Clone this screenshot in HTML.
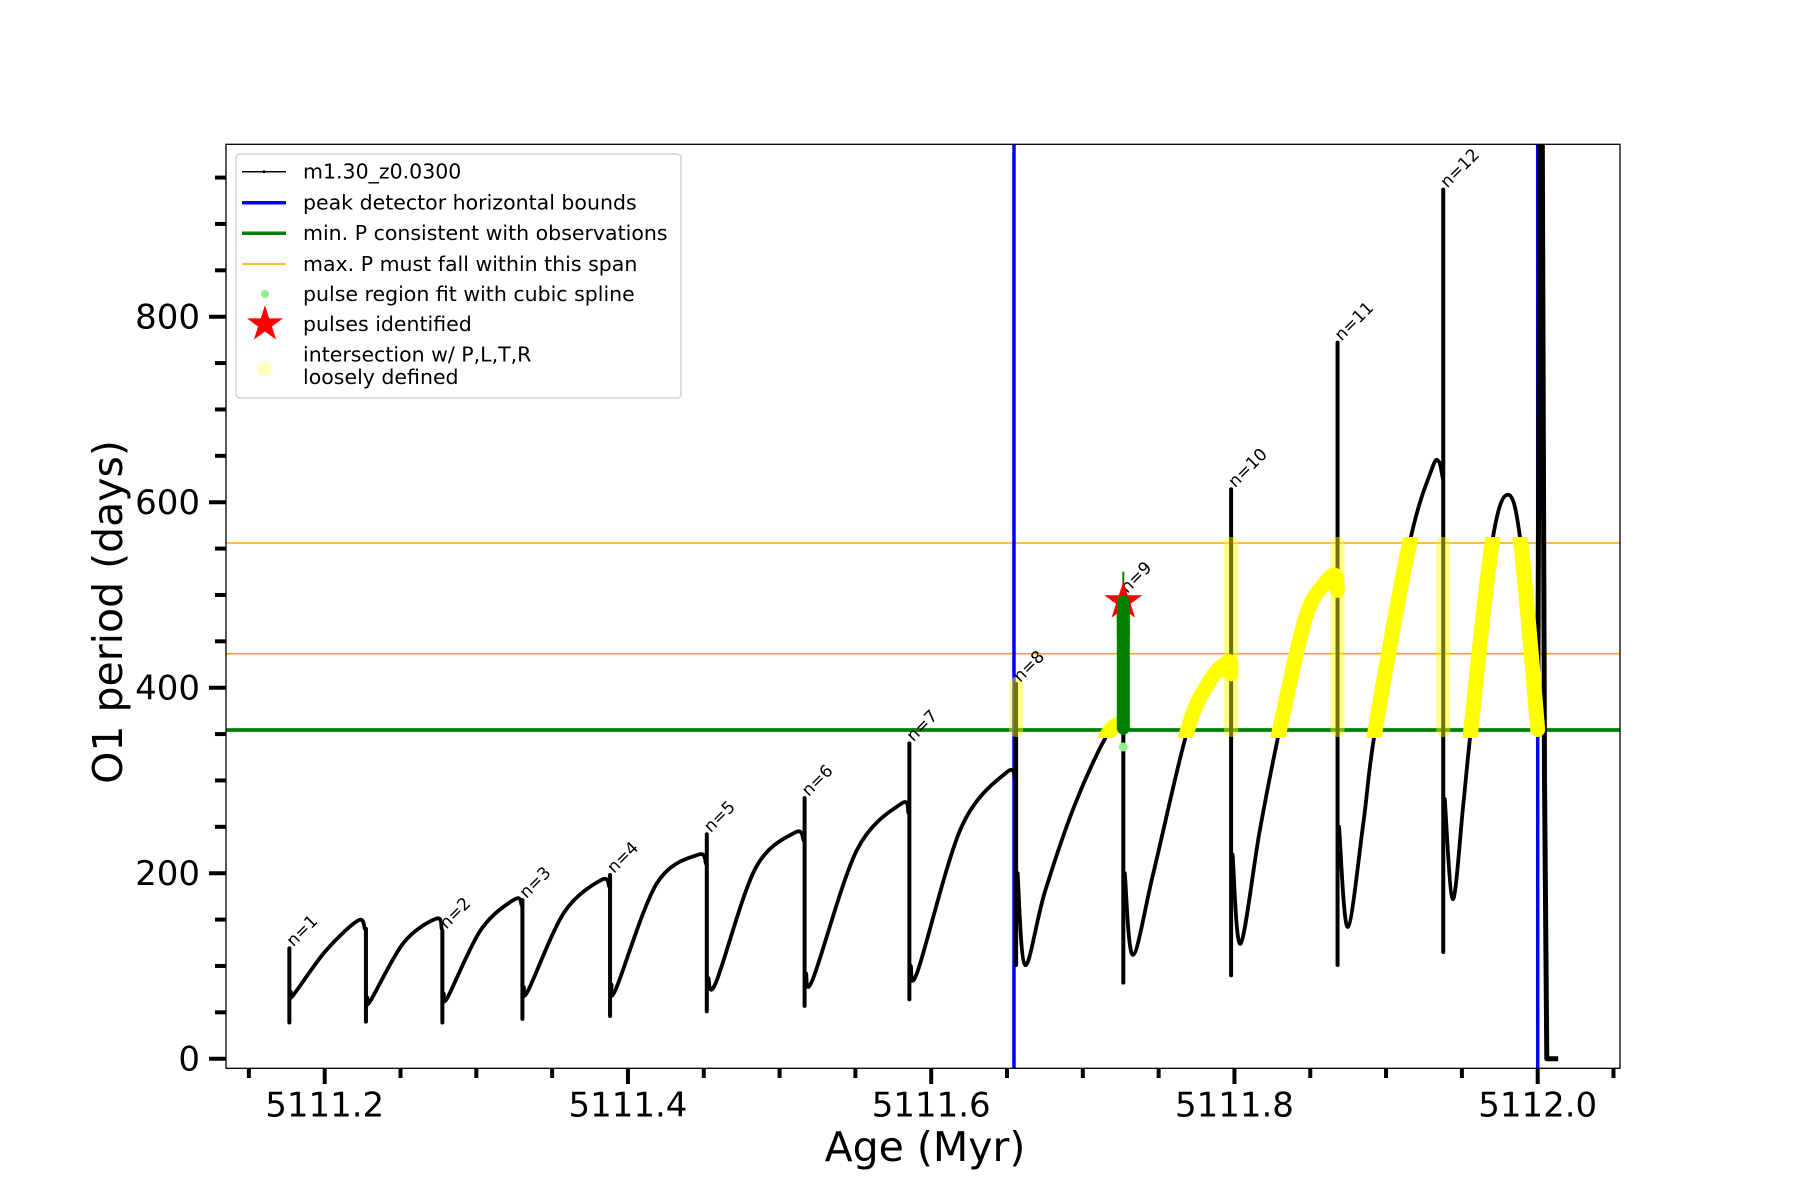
<!DOCTYPE html>
<html><head><meta charset="utf-8"><style>
html,body{margin:0;padding:0;background:#fff;}
svg{display:block;font-family:"DejaVu Sans","Liberation Sans",sans-serif;}
</style></head><body>
<svg id="chart" xmlns="http://www.w3.org/2000/svg" width="1800" height="1200" viewBox="0 0 1800 1200">
<defs>
<clipPath id="plotClip"><rect x="226" y="144.3" width="1394" height="924"/></clipPath>
<clipPath id="bandClip"><rect x="1008" y="537" width="620" height="201"/></clipPath>
</defs>
<rect x="0" y="0" width="1800" height="1200" fill="#fff"/>
<g id="marks" clip-path="url(#plotClip)"></g>
<rect x="226" y="144.3" width="1394" height="924" fill="none" stroke="#000" stroke-width="1.3"/>
<g id="axes"></g>
<text x="925" y="1161" font-size="41" text-anchor="middle">Age (Myr)</text>
<text transform="translate(122,612) rotate(-90)" font-size="41" text-anchor="middle">O1 period (days)</text>
<g>
<rect x="236" y="154" width="445" height="244" rx="4" fill="#fff" fill-opacity="0.85" stroke="#cccccc" stroke-width="1.3"/>
<g><line x1="242" y1="171.7" x2="286" y2="171.7" stroke="#000" stroke-width="1.5"/><circle cx="264" cy="171.7" r="1.5" fill="#000"/><text x="303" y="178.5" font-size="20.5">m1.30_z0.0300</text></g>
<g><line x1="242" y1="202.7" x2="286" y2="202.7" stroke="#0000ff" stroke-width="3.5"/><text x="303" y="209.5" font-size="20.5">peak detector horizontal bounds</text></g>
<g><line x1="242" y1="233.3" x2="286" y2="233.3" stroke="#008000" stroke-width="3.5"/><text x="303" y="240.1" font-size="20.5">min. P consistent with observations</text></g>
<g><line x1="242" y1="264" x2="286" y2="264" stroke="#ffa500" stroke-width="1.5"/><text x="303" y="270.8" font-size="20.5">max. P must fall within this span</text></g>
<g><circle cx="265" cy="294" r="4" fill="#90ee90"/><text x="303" y="300.8" font-size="20.5">pulse region fit with cubic spline</text></g>
<g><polygon id="legStar" fill="#ff0000"/><text x="303" y="331.1" font-size="20.5">pulses identified</text></g>
<g><circle cx="265" cy="369" r="7.5" fill="#ffff00" fill-opacity="0.25"/><text x="303" y="361.5" font-size="20.5">intersection w/ P,L,T,R</text><text x="303" y="384" font-size="20.5">loosely defined</text></g>
</g>
</svg>
<script>
// ---- data ----
const spikeAges = [5111.1767, 5111.2272, 5111.2776, 5111.3304, 5111.3882, 5111.452, 5111.5165, 5111.5856, 5111.656, 5111.7267, 5111.7978, 5111.868, 5111.9377];
const spikeTops = [119, 140, 138, 171, 198, 242, 281, 340, 404, 500, 614, 772, 937];
const spikeBottoms = [39, 40, 39, 43, 46, 51, 57, 64, 101, 82, 90, 101, 115];
const postP = [72, 66, 70, 77, 80, 87, 92, 100, 200, 200, 220, 250, 280];
const spikeLabels = ["n=1", "", "n=2", "n=3", "n=4", "n=5", "n=6", "n=7", "n=8", "n=9", "n=10", "n=11", "n=12"];
const riseAges = [
 [5111.179, 5111.2005, 5111.222, 5111.2265],
 [5111.230, 5111.252, 5111.2736, 5111.2772],
 [5111.281, 5111.303, 5111.3255, 5111.3300],
 [5111.334, 5111.358, 5111.3827, 5111.3878],
 [5111.392, 5111.419, 5111.4464, 5111.4515],
 [5111.458, 5111.484, 5111.5104, 5111.516],
 [5111.522, 5111.551, 5111.5803, 5111.585],
 [5111.591, 5111.62, 5111.65, 5111.6555],
 [5111.6619, 5111.675, 5111.695, 5111.716, 5111.7265],
 [5111.733, 5111.7465, 5111.769, 5111.784, 5111.7964, 5111.7975],
 [5111.804, 5111.8167, 5111.8297, 5111.847, 5111.86, 5111.8664, 5111.8678],
 [5111.8747, 5111.885, 5111.8928, 5111.9155, 5111.93, 5111.9347, 5111.9375],
 [5111.944, 5111.9508, 5111.956, 5111.9699, 5111.9803, 5111.9888, 5112.0]
];
const riseP = [
 [68, 116, 149, 140],
 [62, 125, 151, 140],
 [66, 139, 172, 165],
 [73, 158, 193, 185],
 [75, 189, 220, 210],
 [82, 205, 244, 235],
 [86, 225, 275, 265],
 [94, 250, 309, 300],
 [101, 180, 275, 349, 362],
 [112, 200, 354, 408, 428, 415],
 [124, 246, 354, 476, 513, 521, 505],
 [142, 254, 354, 556, 635, 644, 625],
 [172, 272, 356, 556, 608, 556, 355]
];
const tailAges = [5112.0, 5112.0018, 5112.0028, 5112.0045, 5112.006, 5112.0135];
const tailP = [355, 1100, 1100, 300, 0, 0];
const boundAges = [5111.6546, 5112.0];
const minP = 354.4;
const maxSpan = [436.7, 556];
const pulseAge = 5111.7267;
const pulseP = 493;
const pulseLow = 351;
const pulseHigh = 498;
const pulseTip = 525;
const splinePointP = 336;
const xTicksMajor = [5111.2, 5111.4, 5111.6, 5111.8, 5112.0];
const xTickLabels = ["5111.2", "5111.4", "5111.6", "5111.8", "5112.0"];
const yTicksMajor = [0, 200, 400, 600, 800];
const yTickLabels = ["0", "200", "400", "600", "800"];

// ---- scales ----
function xs(a){ return 324.7 + (a - 5111.2) * 1516.25; }
function ys(p){ return 1058.7 - p * 0.9275; }

const NS = "http://www.w3.org/2000/svg";
const marks = document.getElementById("marks");
const axes = document.getElementById("axes");
function mk(tag, attrs, parent){ const e = document.createElementNS(NS, tag); for (const k in attrs) e.setAttribute(k, attrs[k]); parent.appendChild(e); return e; }

function smoothPath(pts){
  let d = "M" + pts[0][0].toFixed(2) + "," + pts[0][1].toFixed(2);
  for (let i = 0; i < pts.length - 1; i++){
    const p0 = pts[i-1] || pts[i], p1 = pts[i], p2 = pts[i+1], p3 = pts[i+2] || pts[i+1];
    const c1 = [p1[0] + (p2[0]-p0[0])/6, p1[1] + (p2[1]-p0[1])/6];
    const c2 = [p2[0] - (p3[0]-p1[0])/6, p2[1] - (p3[1]-p1[1])/6];
    d += " C" + c1[0].toFixed(2)+","+c1[1].toFixed(2)+" "+c2[0].toFixed(2)+","+c2[1].toFixed(2)+" "+p2[0].toFixed(2)+","+p2[1].toFixed(2);
  }
  return d;
}

maxSpan.forEach(function(v){
  const l = mk("line", {x1:226, x2:1620, y1:ys(v), y2:ys(v), stroke:"#ffa500", "stroke-width":1.6}, marks);
  
  
});
const gl = mk("line", {x1:226, x2:1620, y1:ys(minP), y2:ys(minP), stroke:"#008000", "stroke-width":3.8}, marks);


boundAges.forEach(function(a){
  const l = mk("line", {x1:xs(a), x2:xs(a), y1:144, y2:1069, stroke:"#0000ff", "stroke-width":3.5}, marks);
  
  
});

const curveG = mk("g", {}, marks);


const yellowSpikes = mk("g", {"clip-path":"url(#bandClip)"}, marks);


const yellowRises = mk("g", {"clip-path":"url(#bandClip)"}, marks);



for (let i = 0; i < spikeAges.length; i++){
  const sx = xs(spikeAges[i]);
  const sp = mk("line", {x1:sx, y1:ys(spikeTops[i]), x2:sx, y2:ys(spikeBottoms[i]), stroke:"#000", "stroke-width":4, "stroke-linecap":"round"}, curveG);
  
  
  const risePts = riseAges[i].map(function(a, j){ return [xs(a), ys(riseP[i][j])]; });
  const pts = [[sx + 1.5, ys(postP[i])]].concat(risePts);
  const rp = mk("path", {d:smoothPath(pts), fill:"none", stroke:"#000", "stroke-width":3.8, "stroke-linecap":"round"}, curveG);
  
  
  if (i + 1 < spikeAges.length){
    const last = pts[pts.length-1];
    const c = mk("line", {x1:last[0], y1:last[1], x2:xs(spikeAges[i+1]), y2:ys(riseP[i][riseP[i].length-1]), stroke:"#000", "stroke-width":3.8}, curveG);
    
    
  }
  if (spikeAges[i] > boundAges[0] && spikeAges[i] < boundAges[1] && spikeAges[i] !== pulseAge){
    const ysp = mk("line", {x1:sx, x2:sx, y1:ys(Math.min(spikeTops[i], maxSpan[1])), y2:ys(minP), stroke:"#ffff00", "stroke-opacity":0.45, "stroke-width":14, "stroke-linecap":"round"}, yellowSpikes);
    
    
  }
  if (riseAges[i][riseAges[i].length-1] > boundAges[0]){
    const yr = mk("path", {d:smoothPath(risePts), fill:"none", stroke:"#ffff00", "stroke-width":15, "stroke-linecap":"round"}, yellowRises);
    
    
  }
}
const tail = mk("path", {d:tailAges.map(function(a, j){ return (j?"L":"M")+xs(a)+","+ys(tailP[j]); }).join(" "), fill:"none", stroke:"#000", "stroke-width":5, "stroke-linejoin":"round"}, curveG);



spikeLabels.forEach(function(t, i){
  if (!t) return;
  const x = xs(spikeAges[i]) + 4, y = ys(spikeTops[i]) - 1;
  const tx = mk("text", {x:0, y:0, "font-size":17, transform:"translate("+x+","+y+") rotate(-45)"}, marks);
  tx.textContent = t;
  
  
});

const px = xs(pulseAge);
const gt = mk("line", {x1:px, x2:px, y1:ys(pulseTip), y2:ys(pulseHigh), stroke:"#008000", "stroke-width":2}, marks);


const gp = mk("line", {x1:px, x2:px, y1:ys(pulseHigh)+5, y2:ys(pulseLow)-5, stroke:"#008000", "stroke-width":13, "stroke-linecap":"round"}, marks);


const sd = mk("circle", {cx:px, cy:ys(splinePointP), r:4.5, fill:"#90ee90"}, marks);


function starPts(cx, cy, R){
  const r = R * 0.382, out = [];
  for (let k = 0; k < 10; k++){ const ang = -Math.PI/2 + k*Math.PI/5; const rr = k%2 ? r : R; out.push((cx+rr*Math.cos(ang)).toFixed(2)+","+(cy+rr*Math.sin(ang)).toFixed(2)); }
  return out.join(" ");
}
const st = mk("polygon", {points:starPts(px, ys(pulseP), 20), fill:"#ff0000"}, marks);


const gp2 = mk("line", {x1:px, x2:px, y1:ys(pulseHigh)+5, y2:ys(pulseHigh-40), stroke:"#008000", "stroke-width":13, "stroke-linecap":"round"}, marks);


document.getElementById("legStar").setAttribute("points", starPts(265, 324.3, 19));

for (let v = 0; v <= 950; v += 50){
  const major = v % 200 === 0;
  const t = mk("line", {x1:226 - (major?17:11), x2:226, y1:ys(v), y2:ys(v), stroke:"#000", "stroke-width":4}, axes);
  
  
}
yTicksMajor.forEach(function(v, i){
  const t = mk("text", {x:200, y:ys(v)+12, "font-size":34, "text-anchor":"end"}, axes);
  t.textContent = yTickLabels[i];
  
  
});
for (let k = 0; k <= 18; k++){
  const a = 5111.15 + k*0.05;
  const major = (k - 1) % 4 === 0;
  const t = mk("line", {x1:xs(a), x2:xs(a), y1:1068, y2:1068 + (major?16:10), stroke:"#000", "stroke-width":4}, axes);
  
  
}
xTicksMajor.forEach(function(a, i){
  const t = mk("text", {x:xs(a), y:1116.5, "font-size":34, "text-anchor":"middle"}, axes);
  t.textContent = xTickLabels[i];
  
  
});
</script>
</body></html>
